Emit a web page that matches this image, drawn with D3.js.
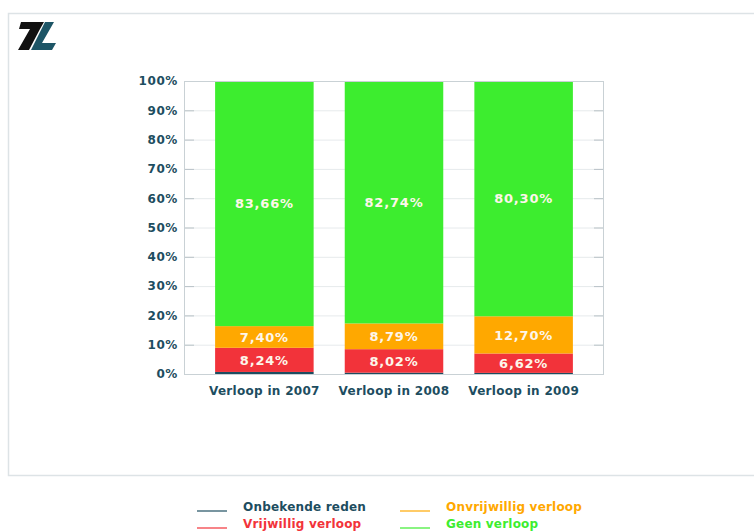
<!DOCTYPE html>
<html>
<head>
<meta charset="utf-8">
<script src="https://cdn.jsdelivr.net/npm/d3@7"></script>
<style>
  html, body { margin: 0; padding: 0; background: #ffffff; }
  svg { display: block; font-family: "DejaVu Sans", Verdana, sans-serif; }
</style>
</head>
<body>
<svg id="chart" width="754" height="532"></svg>
<script>
// categorieën en reeksen (percentages)
const jaren = ["Verloop in 2007", "Verloop in 2008", "Verloop in 2009"];
const reeksen = ["Onbekende reden", "Vrijwillig verloop", "Onvrijwillig verloop", "Geen verloop"];
const onbekendeReden = [0.70, 0.45, 0.38];
const vrijwilligVerloop = [8.24, 8.02, 6.62];
const onvrijwilligVerloop = [7.40, 8.79, 12.70];
const geenVerloop = [83.66, 82.74, 80.30];
const yTicks = [0, 10, 20, 30, 40, 50, 60, 70, 80, 90, 100];

const kleuren = {
    "Onbekende reden": "#1d4d60",
    "Vrijwillig verloop": "#f2333a",
    "Onvrijwillig verloop": "#ffa800",
    "Geen verloop": "#3ded2f"
};
const tekstKleur = "#1d4d60";

const svg = d3.select("#chart");

// kader rond de grafiek
svg.append("rect")
    .attr("x", 8.5).attr("y", 13.5)
    .attr("width", 760).attr("height", 462)
    .attr("fill", "#ffffff")
    .attr("stroke", "#dde3e6")
    .attr("stroke-width", 1.5);

// logo
const logo = svg.append("g");
logo.append("path")
    .attr("d", "M21,22 L44,22 L40,29 L29,50 L18,50 L30,29 L19,29 Z")
    .attr("fill", "#111111");
logo.append("path")
    .attr("d", "M45,22 L54,22 L42,43 L56,43 L52,50 L31,50 Z")
    .attr("fill", "#1d5566");

const plot = { left: 184, right: 604, top: 81, bottom: 374 };

const x = d3.scaleBand()
    .domain(jaren)
    .range([plot.left, plot.right])
    .paddingInner(0.24)
    .paddingOuter(0.24);

const y = d3.scaleLinear()
    .domain([0, 100])
    .range([plot.bottom, plot.top]);

// rasterlijnen
svg.append("g")
    .selectAll("line")
    .data(yTicks)
    .join("line")
    .attr("x1", plot.left).attr("x2", plot.right)
    .attr("y1", d => y(d) + 0.5).attr("y2", d => y(d) + 0.5)
    .attr("stroke", "#e6eaec");

// korte streepjes links en rechts
[[plot.left, plot.left + 10], [plot.right - 10, plot.right]].forEach(([a, b]) => {
    svg.append("g")
        .selectAll("line")
        .data(yTicks)
        .join("line")
        .attr("x1", a).attr("x2", b)
        .attr("y1", d => y(d) + 0.5).attr("y2", d => y(d) + 0.5)
        .attr("stroke", "#b9c2c7");
});

// gestapelde data
const tabel = jaren.map((jaar, i) => ({
    jaar,
    "Onbekende reden": onbekendeReden[i],
    "Vrijwillig verloop": vrijwilligVerloop[i],
    "Onvrijwillig verloop": onvrijwilligVerloop[i],
    "Geen verloop": geenVerloop[i]
}));
const stapels = d3.stack().keys(reeksen)(tabel);

const groepen = svg.append("g")
    .selectAll("g")
    .data(stapels)
    .join("g")
    .attr("fill", d => kleuren[d.key]);

groepen.selectAll("rect")
    .data(d => d)
    .join("rect")
    .attr("x", d => x(d.data.jaar))
    .attr("width", x.bandwidth())
    .attr("y", d => y(d[1]))
    .attr("height", d => y(d[0]) - y(d[1]));

// waardelabels in de balken
const fmt = v => v.toFixed(2).replace(".", ",") + "%";
svg.append("g")
    .selectAll("g")
    .data(stapels.filter(s => s.key !== "Onbekende reden"))
    .join("g")
    .selectAll("text")
    .data(d => d)
    .join("text")
    .attr("x", d => x(d.data.jaar) + x.bandwidth() / 2)
    .attr("y", d => (y(d[0]) + y(d[1])) / 2)
    .attr("dy", "0.36em")
    .attr("text-anchor", "middle")
    .attr("fill", "#fdf6ea")
    .attr("font-size", 13)
    .attr("font-weight", "bold")
    .attr("letter-spacing", 0.8)
    .text(d => fmt(d[1] - d[0]));

// kader van het plotgebied
svg.append("rect")
    .attr("x", plot.left + 0.5).attr("y", plot.top + 0.5)
    .attr("width", plot.right - plot.left - 1)
    .attr("height", plot.bottom - plot.top)
    .attr("fill", "none")
    .attr("stroke", "#c9d1d5");

// y-as
const yAs = svg.append("g")
    .attr("transform", `translate(${plot.left},0)`)
    .call(d3.axisLeft(y).tickValues(yTicks).tickSize(0).tickPadding(6).tickFormat(d => d + "%"));
yAs.select(".domain").remove();
yAs.selectAll("text")
    .attr("fill", tekstKleur)
    .attr("font-size", 12)
    .attr("font-weight", "bold")
    .attr("letter-spacing", 0.6)
    .attr("font-family", "DejaVu Sans, Verdana, sans-serif");

// x-as
const xAs = svg.append("g")
    .attr("transform", `translate(0,${plot.bottom})`)
    .call(d3.axisBottom(x).tickSize(0).tickPadding(12));
xAs.select(".domain").remove();
xAs.selectAll("text")
    .attr("fill", tekstKleur)
    .attr("font-size", 12)
    .attr("font-weight", "bold")
    .attr("letter-spacing", 0.3)
    .attr("font-family", "DejaVu Sans, Verdana, sans-serif");

// legenda
const legendaVolgorde = ["Onbekende reden", "Onvrijwillig verloop", "Vrijwillig verloop", "Geen verloop"];
const legenda = svg.append("g")
    .selectAll("g")
    .data(legendaVolgorde)
    .join("g")
    .attr("transform", (d, i) => `translate(${i % 2 === 0 ? 197 : 400},${i < 2 ? 511 : 528})`);

legenda.append("line")
    .attr("x1", 0).attr("x2", 30)
    .attr("stroke", d => kleuren[d])
    .attr("stroke-width", 1.2);

legenda.append("text")
    .attr("x", 46)
    .attr("y", -0.5)
    .attr("fill", d => d === "Onbekende reden" ? tekstKleur : kleuren[d])
    .attr("font-size", 12)
    .attr("font-weight", "bold")
    .attr("letter-spacing", 0.2)
    .text(d => d);
</script>
</body>
</html>
